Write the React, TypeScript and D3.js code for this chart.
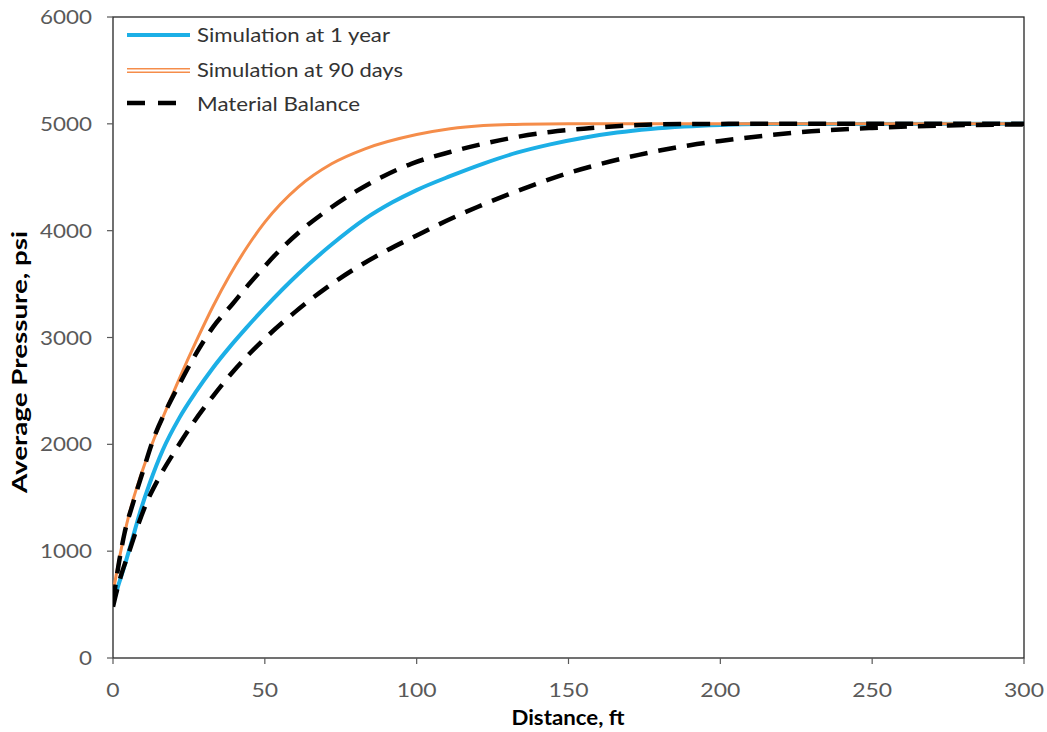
import * as d3 from 'd3';

// distance (ft) / average pressure (psi)
const sim90X = [0, 0.5, 1.4, 3.3, 5.8, 9, 12.9, 17.5, 22, 27.4, 33, 38.4, 44, 50, 61, 72, 83, 100, 111, 122, 135, 150, 200, 300];
const sim90P = [620, 690, 830, 1100, 1400, 1696, 2006, 2325, 2625, 2965, 3295, 3580, 3840, 4080, 4408, 4626, 4766, 4900, 4955, 4985, 4997, 5000, 5000, 5000];

const sim1yX = [0.5, 1.6, 3.3, 6, 8.8, 12.1, 16.4, 21.9, 27.4, 32.9, 38.4, 43.9, 50, 61, 72, 83, 92, 100, 111, 122, 133, 144, 155, 166, 177, 188, 200, 220, 300];
const sim1yP = [560, 665, 817, 1075, 1355, 1636, 1947, 2250, 2495, 2715, 2910, 3090, 3280, 3595, 3870, 4110, 4265, 4380, 4510, 4628, 4730, 4808, 4870, 4918, 4952, 4975, 4990, 4999, 5000];

const mb90X = [0, 2, 3.8, 6.6, 10, 13.2, 17.5, 22, 27.4, 33, 39.5, 44, 48.2, 53.3, 62, 70.8, 79.6, 88.9, 98.2, 111, 122, 133, 144, 155, 171, 188, 210, 300];
const mb90P = [520, 900, 1169, 1449, 1760, 2041, 2321, 2570, 2851, 3100, 3318, 3474, 3610, 3770, 4003, 4196, 4361, 4508, 4626, 4736, 4814, 4877, 4924, 4955, 4986, 4998, 5000, 5000];

const mb1yX = [0, 1, 2.5, 4, 5.5, 7.7, 11, 15.4, 20.8, 26.3, 32.9, 39.5, 45, 50, 60, 70, 80, 90, 100, 110, 120, 130, 140, 150, 160, 170, 180, 190, 200, 215, 230, 250, 275, 300];
const mb1yP = [480, 600, 760, 890, 1010, 1200, 1449, 1700, 1955, 2196, 2450, 2680, 2850, 2990, 3240, 3460, 3650, 3812, 3955, 4095, 4222, 4337, 4443, 4540, 4620, 4690, 4750, 4800, 4840, 4890, 4930, 4962, 4985, 4995];

const xTicks = [0, 50, 100, 150, 200, 250, 300];
const yTicks = [0, 1000, 2000, 3000, 4000, 5000, 6000];

const legendLabels = ['Simulation at 1 year', 'Simulation at 90 days', 'Material Balance'];
const legendWidths = [193, 206, 163];

const W = 1047;
const H = 732;
const left = 113, right = 1024, top = 17, bottom = 658;

const FONT = 'Lato, "DejaVu Sans", sans-serif';

export default function App() {
  const x = d3.scaleLinear().domain([0, 300]).range([left, right]);
  const y = d3.scaleLinear().domain([0, 6000]).range([bottom, top]);

  const line = d3.line<[number, number]>()
    .x(d => x(d[0]))
    .y(d => y(d[1]))
    .curve(d3.curveMonotoneX);

  const zip = (xs: number[], ps: number[]) => xs.map((v, i) => [v, ps[i]] as [number, number]);

  const blueColor = '#1CAFE6';
  const orangeColor = '#F58D4A';

  return (
    <svg width={W} height={H} style={{ position: 'absolute', left: 0, top: 0, background: '#fff' }}>
      <defs>
        <clipPath id="plot">
          <rect x={left} y={top - 2} width={right - left} height={bottom - top + 2} />
        </clipPath>
      </defs>

      {/* frame */}
      <rect x={left} y={top} width={right - left} height={bottom - top} fill="none" stroke="#262626" strokeWidth={1.3} />

      {/* y ticks */}
      {yTicks.map(t => (
        <g key={'y' + t}>
          <line x1={left - 6} x2={left} y1={y(t)} y2={y(t)} stroke="#595959" strokeWidth={1.2} />
          <text x={92} y={y(t) + 7} textAnchor="end" fontFamily={FONT} fontSize={20} fill="#595959"
            textLength={13 * String(t).length} lengthAdjust="spacingAndGlyphs">{t}</text>
        </g>
      ))}

      {/* x ticks */}
      {xTicks.map(t => (
        <g key={'x' + t}>
          <line x1={x(t)} x2={x(t)} y1={bottom} y2={bottom + 6} stroke="#595959" strokeWidth={1.2} />
          <text x={x(t)} y={697} textAnchor="middle" fontFamily={FONT} fontSize={20} fill="#595959"
            textLength={13.3 * String(t).length} lengthAdjust="spacingAndGlyphs">{t}</text>
        </g>
      ))}

      {/* axis titles */}
      <text x={568} y={725} textAnchor="middle" fontFamily={FONT} fontWeight="bold" fontSize={20} fill="#000"
        textLength={113} lengthAdjust="spacingAndGlyphs">Distance, ft</text>
      <text transform="translate(27,362) rotate(-90)" textAnchor="middle" fontFamily={FONT} fontWeight="bold" fontSize={20} fill="#000"
        textLength={262} lengthAdjust="spacingAndGlyphs">Average Pressure, psi</text>

      {/* series */}
      <g clipPath="url(#plot)" fill="none">
        <path d={line(zip(sim1yX, sim1yP)) || ''} stroke={blueColor} strokeWidth={4} />
        <path d={line(zip(sim90X, sim90P)) || ''} stroke={orangeColor} strokeWidth={3} />
        <path d={line(zip(mb90X, mb90P)) || ''} stroke="#000" strokeWidth={4.5} strokeDasharray="18 11" />
        <path d={line(zip(mb1yX, mb1yP)) || ''} stroke="#000" strokeWidth={4.5} strokeDasharray="18 11" />
      </g>

      {/* legend */}
      <g>
        <line x1={127} x2={190} y1={35} y2={35} stroke={blueColor} strokeWidth={4} />
        <line x1={127} x2={190} y1={70.5} y2={70.5} stroke={orangeColor} strokeWidth={5} />
        <line x1={127} x2={190} y1={70.5} y2={70.5} stroke="#fff" strokeWidth={2} />
        <line x1={127} x2={177} y1={103} y2={103} stroke="#000" strokeWidth={4.5} strokeDasharray="18 13" />
        {legendLabels.map((l, i) => (
          <text key={l} x={197} y={42 + i * 34.5} fontFamily={FONT} fontSize={20} fill="#333"
            textLength={legendWidths[i]} lengthAdjust="spacingAndGlyphs">{l}</text>
        ))}
      </g>
    </svg>
  );
}
